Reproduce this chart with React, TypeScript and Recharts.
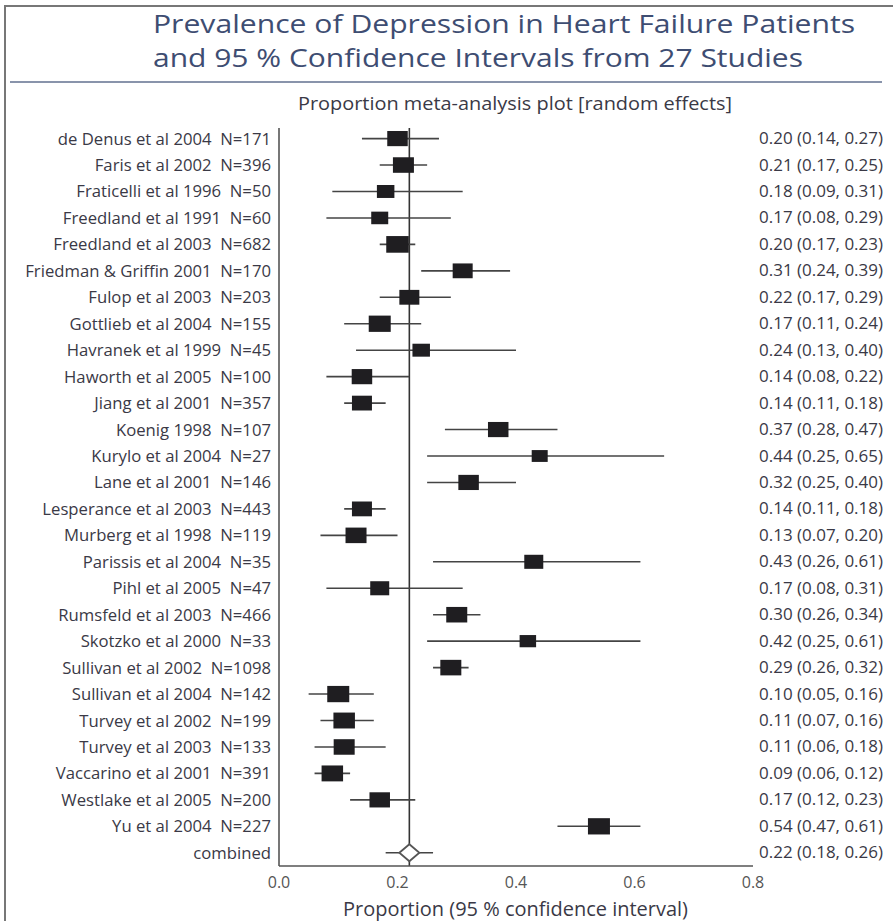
import React from 'react';
import { ScatterChart, Scatter, XAxis, YAxis, ErrorBar, ReferenceLine } from 'recharts';

const studies = [
  'de Denus et al 2004  N=171',
  'Faris et al 2002  N=396',
  'Fraticelli et al 1996  N=50',
  'Freedland et al 1991  N=60',
  'Freedland et al 2003  N=682',
  'Friedman & Griffin 2001  N=170',
  'Fulop et al 2003  N=203',
  'Gottlieb et al 2004  N=155',
  'Havranek et al 1999  N=45',
  'Haworth et al 2005  N=100',
  'Jiang et al 2001  N=357',
  'Koenig 1998  N=107',
  'Kurylo et al 2004  N=27',
  'Lane et al 2001  N=146',
  'Lesperance et al 2003  N=443',
  'Murberg et al 1998  N=119',
  'Parissis et al 2004  N=35',
  'Pihl et al 2005  N=47',
  'Rumsfeld et al 2003  N=466',
  'Skotzko et al 2000  N=33',
  'Sullivan et al 2002  N=1098',
  'Sullivan et al 2004  N=142',
  'Turvey et al 2002  N=199',
  'Turvey et al 2003  N=133',
  'Vaccarino et al 2001  N=391',
  'Westlake et al 2005  N=200',
  'Yu et al 2004  N=227',
  'combined',
];

const estimates = [0.20, 0.21, 0.18, 0.17, 0.20, 0.31, 0.22, 0.17, 0.24, 0.14, 0.14, 0.37, 0.44, 0.32, 0.14, 0.13, 0.43, 0.17, 0.30, 0.42, 0.29, 0.10, 0.11, 0.11, 0.09, 0.17, 0.54, 0.22];
const lower = [0.14, 0.17, 0.09, 0.08, 0.17, 0.24, 0.17, 0.11, 0.13, 0.08, 0.11, 0.28, 0.25, 0.25, 0.11, 0.07, 0.26, 0.08, 0.26, 0.25, 0.26, 0.05, 0.07, 0.06, 0.06, 0.12, 0.47, 0.18];
const upper = [0.27, 0.25, 0.31, 0.29, 0.23, 0.39, 0.29, 0.24, 0.40, 0.22, 0.18, 0.47, 0.65, 0.40, 0.18, 0.20, 0.61, 0.31, 0.34, 0.61, 0.32, 0.16, 0.16, 0.18, 0.12, 0.23, 0.61, 0.26];
// relative study weights (drive the box size)
const weights = [4.1, 4.2, 3.5, 3.4, 4.5, 4.0, 4.0, 4.4, 3.5, 4.1, 4.0, 4.1, 3.2, 4.1, 4.0, 4.2, 3.8, 3.8, 4.2, 3.3, 4.2, 4.4, 4.3, 4.2, 4.3, 4.1, 4.4, 4.0];
const xTicks = [0, 0.2, 0.4, 0.6, 0.8];

const rows = studies.map((name, i) => ({
  row: i,
  name,
  est: estimates[i],
  err: [estimates[i] - lower[i], upper[i] - estimates[i]],
  weight: weights[i],
  combined: name === 'combined',
}));
const rowTicks = rows.map((r) => r.row);

const TEXT = '#3a3946';
const FONT = '"Open Sans", "Noto Sans", sans-serif';

const BoxShape = (props: any) => {
  const { cx, cy, payload } = props;
  if (cx == null || cy == null) return null;
  const w = payload.weight * 5;
  const h = w * 0.74;
  if (payload.combined) {
    const dw = w / 2;
    const dh = 8.5;
    return (
      <polygon
        points={`${cx - dw},${cy} ${cx},${cy - dh} ${cx + dw},${cy} ${cx},${cy + dh}`}
        fill="#ffffff"
        stroke="#555"
        strokeWidth={1.8}
      />
    );
  }
  return <rect x={cx - w / 2} y={cy - h / 2} width={w} height={h} fill="#1f1e21" />;
};

const LeftTick = (props: any) => {
  const { x, y, payload } = props;
  const label = studies[payload.value].replace(/  /g, '\u00A0\u00A0');
  return (
    <text x={x} y={y} dy={6} textAnchor="end" fontSize={16.7} fontFamily={FONT} fill={TEXT}>
      {label}
    </text>
  );
};

const RightTick = (props: any) => {
  const { x, y, payload } = props;
  const i = payload.value;
  const label = `${estimates[i].toFixed(2)} (${lower[i].toFixed(2)}, ${upper[i].toFixed(2)})`;
  return (
    <text
      x={x}
      y={y}
      dy={5.5}
      textAnchor="start"
      fontSize={16.3}
      fontFamily={FONT}
      fill={TEXT}
      textLength={124}
      lengthAdjust="spacingAndGlyphs"
    >
      {label}
    </text>
  );
};

const BottomTick = (props: any) => {
  const { x, y, payload } = props;
  return (
    <text x={x} y={y} dy={22} textAnchor="middle" fontSize={16} fontFamily={FONT} fill="#555">
      {Number(payload.value).toFixed(1)}
    </text>
  );
};

export default function App() {
  return (
    <div style={{ position: 'absolute', left: 0, top: 0, width: 893, height: 921, background: '#fff', overflow: 'hidden' }}>
      <svg width={893} height={921} style={{ position: 'absolute', left: 0, top: 0 }}>
        <rect x={5} y={6} width={1000} height={1000} fill="none" stroke="#777" strokeWidth={2} />
        <text x={153} y={33} fontSize={26} fontFamily={FONT} fill="#3e4d72" textLength={702} lengthAdjust="spacingAndGlyphs">
          Prevalence of Depression in Heart Failure Patients
        </text>
        <text x={153} y={67} fontSize={26} fontFamily={FONT} fill="#3e4d72" textLength={650} lengthAdjust="spacingAndGlyphs">
          and 95 % Confidence Intervals from 27 Studies
        </text>
        <line x1={10} x2={882} y1={82} y2={82} stroke="#62708f" strokeWidth={1.5} />
        <text x={298} y={110} fontSize={18.5} fontFamily={FONT} fill={TEXT} textLength={434} lengthAdjust="spacingAndGlyphs">
          Proportion meta-analysis plot [random effects]
        </text>
        <text x={343} y={916} fontSize={19.5} fontFamily={FONT} fill={TEXT} textLength={345} lengthAdjust="spacingAndGlyphs">
          Proportion (95 % confidence interval)
        </text>
      </svg>
      <div style={{ position: 'absolute', left: 0, top: 0 }}>
        <ScatterChart width={893} height={921} margin={{ top: 128, right: 139, bottom: 54, left: 278 }}>
          <XAxis
            type="number"
            dataKey="est"
            domain={[0, 0.8]}
            ticks={xTicks}
            axisLine={{ stroke: '#555', strokeWidth: 1.6 }}
            tickLine={false}
            tickSize={0}
            tickMargin={0}
            height={1}
            tick={<BottomTick />}
            allowDataOverflow
          />
          <YAxis
            type="number"
            dataKey="row"
            domain={[-0.4, 27.5]}
            reversed
            ticks={rowTicks}
            interval={0}
            width={1}
            axisLine={{ stroke: '#555', strokeWidth: 1.6 }}
            tickLine={false}
            tickSize={0}
            tickMargin={8}
            tick={<LeftTick />}
            allowDataOverflow
          />
          <YAxis
            yAxisId="right"
            orientation="right"
            type="number"
            dataKey="row"
            domain={[-0.4, 27.5]}
            reversed
            ticks={rowTicks}
            interval={0}
            width={1}
            axisLine={false}
            tickLine={false}
            tickSize={0}
            tickMargin={6}
            tick={<RightTick />}
            allowDataOverflow
          />
          <ReferenceLine x={0.22} stroke="#333" strokeWidth={1.6} />
          <Scatter data={rows} shape={<BoxShape />} isAnimationActive={false}>
            <ErrorBar dataKey="err" direction="x" width={0} stroke="#444" strokeWidth={1.6} />
          </Scatter>
          <Scatter data={rows} yAxisId="right" shape={() => null} isAnimationActive={false} />
        </ScatterChart>
      </div>
    </div>
  );
}
